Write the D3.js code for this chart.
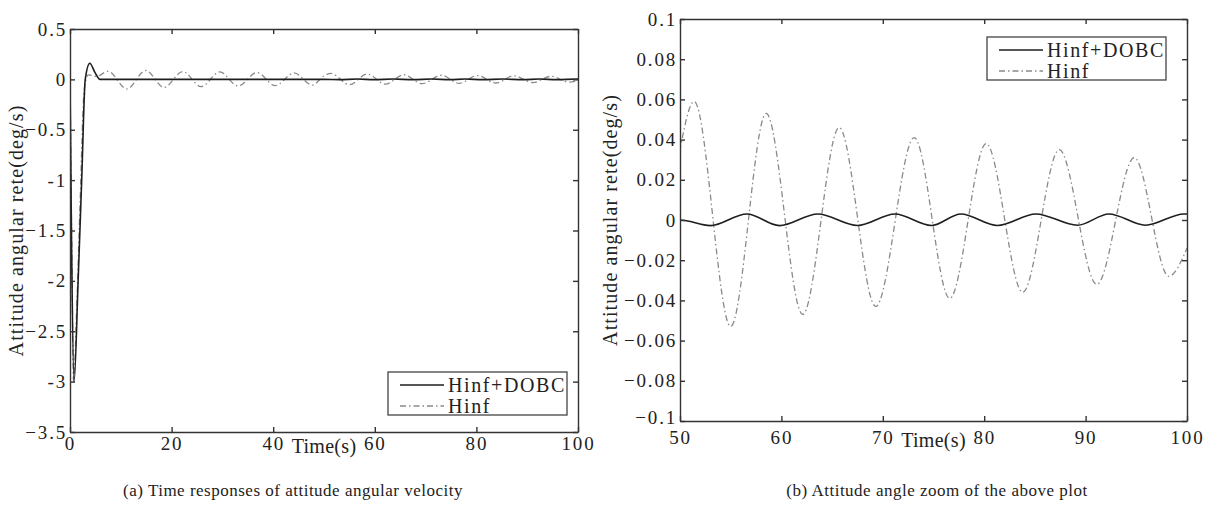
<!DOCTYPE html>
<html>
<head>
<meta charset="utf-8">
<script src="https://cdn.jsdelivr.net/npm/d3@7"></script>
<style>
  body { margin: 0; background: #fff; }
  svg { display: block; }
  text { font-family: "Liberation Serif", "Times New Roman", Times, serif; fill: #222; }
</style>
</head>
<body>
<div id="chart"></div>
<script>
// series names
var seriesNames = ["Hinf+DOBC", "Hinf"];

// Hinf+DOBC response (time s, rate deg/s)
var dobcT = [0, 0.3, 0.8, 1.6, 2.3, 3.0, 3.9, 4.9, 5.9, 50, 53.0, 56.6, 59.8, 63.6, 67.5, 71.2, 74.8, 77.7, 81.3, 85.1, 89.2, 92.3, 95.9, 99.7, 100];
var dobcV = [0, -1.6, -3.0, -2.0, -1.0, 0, 0.16, 0.07, 0, 0, -0.0028, 0.003, -0.0028, 0.003, -0.0027, 0.003, -0.0027, 0.003, -0.0027, 0.003, -0.0026, 0.003, -0.0026, 0.003, 0.003];

// Hinf response
var hinfT = [0, 0.3, 0.7, 1.3, 2.0, 2.8, 3.6, 5.2, 7.5, 11.2, 14.9, 18.5, 22.2, 25.8, 29.5, 33.1, 36.8, 40.4, 44.1, 47.7, 50, 51.4, 55.0, 58.5, 62.1, 65.7, 69.3, 73.1, 76.6, 80.2, 83.8, 87.4, 91.1, 94.8, 98.2, 100];
var hinfV = [0, -1.4, -3.0, -2.3, -1.2, -0.1, 0.045, 0.03, 0.08, -0.095, 0.088, -0.08, 0.078, -0.072, 0.074, -0.066, 0.068, -0.062, 0.064, -0.057, 0.035, 0.059, -0.053, 0.053, -0.047, 0.046, -0.043, 0.041, -0.039, 0.038, -0.036, 0.035, -0.032, 0.031, -0.028, -0.014];

// panel (a) ticks
var aXTicks = [0, 20, 40, 60, 80, 100];
var aYTicks = [0.5, 0, -0.5, -1, -1.5, -2, -2.5, -3, -3.5];
var aYLabels = ["0.5", "0", "\u22120.5", "-1", "\u22121.5", "-2", "\u22122.5", "-3", "\u22123.5"];

// panel (b) ticks
var bXTicks = [50, 60, 70, 80, 90, 100];
var bYTicks = [0.1, 0.08, 0.06, 0.04, 0.02, 0, -0.02, -0.04, -0.06, -0.08, -0.1];
var bYLabels = ["0.1", "0.08", "0.06", "0.04", "0.02", "0", "\u22120.02", "\u22120.04", "\u22120.06", "\u22120.08", "\u22120.1"];

var yTitle = "Attitude angular rete(deg/s)";
var xTitle = "Time(s)";
var captions = ["(a) Time responses of attitude angular velocity", "(b) Attitude angle zoom of the above plot"];

var W = 1212, H = 507;
var serif = "'Liberation Serif', 'Times New Roman', Times, serif";

var svg = d3.select("#chart").append("svg")
    .attr("width", W)
    .attr("height", H)
    .attr("font-family", serif);

var series = [
  { name: seriesNames[0], pts: dobcT.map(function(t, i) { return [t, dobcV[i]]; }), color: "#1e1e1e", width: 1.6, dash: null },
  { name: seriesNames[1], pts: hinfT.map(function(t, i) { return [t, hinfV[i]]; }), color: "#8a8a8a", width: 1.3, dash: "6,3,1.5,3" }
];

function drawPanel(p) {
  var x = d3.scaleLinear().domain(p.xDomain).range([p.left, p.right]);
  var y = d3.scaleLinear().domain(p.yDomain).range([p.bottom, p.top]);

  var g = svg.append("g");

  g.append("clipPath").attr("id", "clip" + p.id)
    .append("rect")
      .attr("x", p.left).attr("y", p.top)
      .attr("width", p.right - p.left).attr("height", p.bottom - p.top);

  // lines
  var line = d3.line()
      .x(function(d) { return x(d[0]); })
      .y(function(d) { return y(d[1]); })
      .curve(d3.curveMonotoneX);

  var lines = g.append("g").attr("clip-path", "url(#clip" + p.id + ")");
  series.slice().reverse().forEach(function(s) {
    lines.append("path")
      .attr("d", line(s.pts))
      .attr("fill", "none")
      .attr("stroke", s.color)
      .attr("stroke-width", s.width)
      .attr("stroke-dasharray", s.dash);
  });

  // axes, ticks inward on all sides
  var xBottom = d3.axisBottom(x).tickValues(p.xTicks).tickSizeInner(-5).tickSizeOuter(0).tickPadding(p.xPad);
  var xTop = d3.axisTop(x).tickValues(p.xTicks).tickSizeInner(-5).tickSizeOuter(0).tickFormat("");
  var yLeft = d3.axisLeft(y).tickValues(p.yTicks).tickSizeInner(-5).tickSizeOuter(0).tickPadding(3)
      .tickFormat(function(d, i) { return p.yLabels[i]; });
  var yRight = d3.axisRight(y).tickValues(p.yTicks).tickSizeInner(-5).tickSizeOuter(0).tickFormat("");

  var axes = [
    g.append("g").attr("transform", "translate(0," + p.bottom + ")").call(xBottom),
    g.append("g").attr("transform", "translate(0," + p.top + ")").call(xTop),
    g.append("g").attr("transform", "translate(" + p.left + ",0)").call(yLeft),
    g.append("g").attr("transform", "translate(" + p.right + ",0)").call(yRight)
  ];
  axes.forEach(function(a) {
    a.attr("font-family", null).attr("font-size", null);
    a.selectAll(".domain").attr("stroke", "#333").attr("stroke-width", 1.4);
    a.selectAll(".tick line").attr("stroke", "#333").attr("stroke-width", 1.4);
    a.selectAll(".tick text")
      .style("font-family", serif)
      .style("font-size", "19px")
      .style("letter-spacing", "1.8px")
      .attr("fill", "#222");
  });

  // lowest y label sits a little higher so it clears the first x label
  axes[2].selectAll(".tick text")
    .filter(function(d) { return d === p.yDomain[0]; })
    .attr("dy", "0.32em")
    .attr("y", -p.lowLift);

  // axis titles
  g.append("text")
    .attr("x", (p.left + p.right) / 2)
    .attr("y", p.bottom + p.xTitleDy)
    .attr("text-anchor", "middle")
    .style("font-family", serif)
    .style("font-size", "20px")
    .style("letter-spacing", "0.3px")
    .text(xTitle);

  g.append("text")
    .attr("transform", "translate(" + p.yTitleX + "," + ((p.top + p.bottom) / 2) + ") rotate(-90)")
    .attr("text-anchor", "middle")
    .attr("dy", "0.35em")
    .style("font-family", serif)
    .style("font-size", "20px")
    .style("letter-spacing", "1.1px")
    .text(yTitle);

  // legend
  var lg = g.append("g").attr("transform", "translate(" + p.legend[0] + "," + p.legend[1] + ")");
  lg.append("rect")
    .attr("width", 179).attr("height", 43)
    .attr("fill", "#fff")
    .attr("stroke", "#444").attr("stroke-width", 1.3);
  series.forEach(function(s, i) {
    var by = 20 + i * 21;
    lg.append("line")
      .attr("x1", 12).attr("x2", 56)
      .attr("y1", by - 7).attr("y2", by - 7)
      .attr("stroke", s.color)
      .attr("stroke-width", s.width)
      .attr("stroke-dasharray", s.dash);
    lg.append("text")
      .attr("x", 60).attr("y", by)
      .style("font-family", serif)
      .style("font-size", "20px")
      .style("letter-spacing", "1.6px")
      .text(s.name);
  });

  // caption
  g.append("text")
    .attr("x", p.captionX)
    .attr("y", 496)
    .attr("text-anchor", "middle")
    .style("font-family", serif)
    .style("font-size", "17px")
    .style("letter-spacing", "0.5px")
    .text(p.caption);
}

drawPanel({
  id: "a", left: 70, right: 578, top: 29, bottom: 432,
  xDomain: [0, 100], yDomain: [-3.5, 0.5],
  xTicks: aXTicks, yTicks: aYTicks, yLabels: aYLabels,
  xPad: 5, xTitleDy: 21, yTitleX: 16, lowLift: 0,
  legend: [388, 372],
  caption: captions[0], captionX: 293
});

drawPanel({
  id: "b", left: 680, right: 1187, top: 19, bottom: 421,
  xDomain: [50, 100], yDomain: [-0.1, 0.1],
  xTicks: bXTicks, yTicks: bYTicks, yLabels: bYLabels,
  xPad: 10, xTitleDy: 26, yTitleX: 610, lowLift: 4,
  legend: [987, 37],
  caption: captions[1], captionX: 937
});
</script>
</body>
</html>
